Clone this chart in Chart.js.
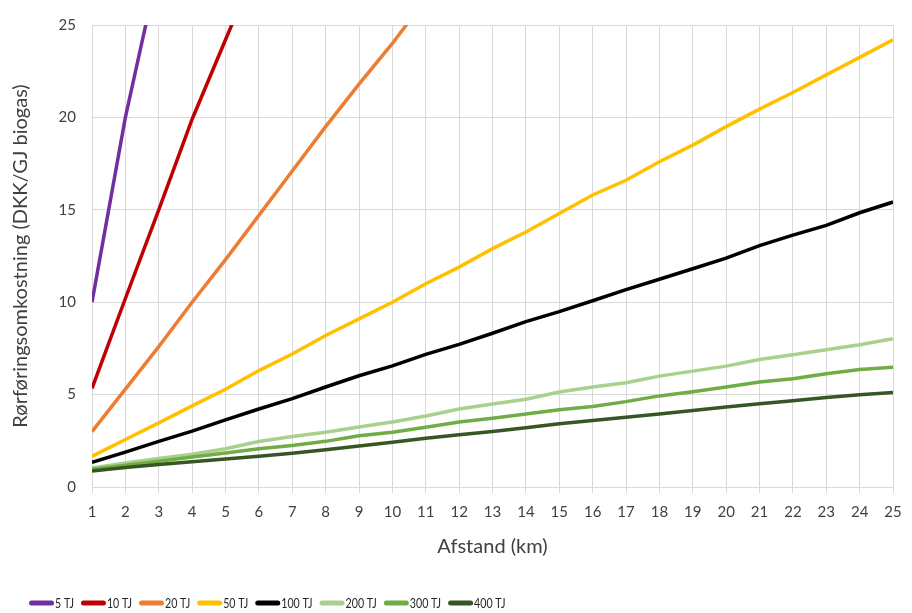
<!DOCTYPE html>
<html>
<head>
<meta charset="utf-8">
<script src="https://cdn.jsdelivr.net/npm/chart.js@4.4.1/dist/chart.umd.min.js"></script>
<style>
  html, body { margin: 0; padding: 0; background: #ffffff; }
  #wrap { width: 912px; height: 613px; }
</style>
</head>
<body>
<div id="wrap"><canvas id="c" width="912" height="613"></canvas></div>
<script>
// Afstand i km (kategorier på x-aksen)
const distanceKm = ['1','2','3','4','5','6','7','8','9','10','11','12','13','14','15','16','17','18','19','20','21','22','23','24','25'];

// Rørføringsomkostning (DKK/GJ biogas) pr. anlægsstørrelse
const cost5TJ   = [10.0, 20.0, 28.2];
const cost10TJ  = [5.34, 10.2, 15.0, 19.9, 24.2, 28.5];
const cost20TJ  = [3.0, 5.3, 7.6, 10.0, 12.3, 14.7, 17.1, 19.5, 21.8, 24.0, 26.4];
const cost50TJ  = [1.66, 2.57, 3.47, 4.39, 5.29, 6.3, 7.2, 8.2, 9.1, 10.0, 11.0, 11.9, 12.9, 13.8, 14.8, 15.8, 16.6, 17.6, 18.5, 19.5, 20.45, 21.35, 22.3, 23.25, 24.2];
const cost100TJ = [1.33, 1.89, 2.47, 3.02, 3.63, 4.22, 4.78, 5.41, 6.02, 6.55, 7.18, 7.72, 8.32, 8.95, 9.49, 10.08, 10.68, 11.24, 11.81, 12.38, 13.06, 13.63, 14.16, 14.84, 15.42];
const cost200TJ = [1.03, 1.3, 1.54, 1.77, 2.07, 2.46, 2.73, 2.96, 3.25, 3.52, 3.84, 4.22, 4.49, 4.75, 5.14, 5.41, 5.64, 6.0, 6.27, 6.54, 6.9, 7.16, 7.43, 7.7, 8.02];
const cost300TJ = [0.96, 1.18, 1.39, 1.62, 1.84, 2.07, 2.25, 2.47, 2.77, 2.96, 3.23, 3.52, 3.72, 3.95, 4.18, 4.36, 4.62, 4.93, 5.15, 5.41, 5.68, 5.86, 6.13, 6.36, 6.48];
const cost400TJ = [0.87, 1.05, 1.22, 1.37, 1.52, 1.67, 1.83, 2.02, 2.22, 2.42, 2.64, 2.83, 3.0, 3.2, 3.42, 3.6, 3.77, 3.95, 4.14, 4.33, 4.51, 4.67, 4.84, 4.99, 5.12];

const seriesNames = ['5 TJ', '10 TJ', '20 TJ', '50 TJ', '100 TJ', '200 TJ', '300 TJ', '400 TJ'];
const seriesValues = [cost5TJ, cost10TJ, cost20TJ, cost50TJ, cost100TJ, cost200TJ, cost300TJ, cost400TJ];
const seriesColors = ['#7030A0', '#C00000', '#ED7D31', '#FFC000', '#000000', '#A9D18E', '#70AD47', '#375623'];

const yTicks = [0, 5, 10, 15, 20, 25];

const FONT = 'Lato, "Liberation Sans", sans-serif';
const TEXT = '#404040';
const GRID = '#D9D9D9';

// Senere serier tegnes øverst
const datasets = seriesNames.map((name, i) => ({
  label: name,
  data: seriesValues[i],
  borderColor: seriesColors[i],
  backgroundColor: seriesColors[i],
  borderWidth: 3.5,
  pointRadius: 0,
  pointHoverRadius: 0,
  tension: 0,
  fill: false,
  clip: 0,
  spanGaps: false,
  order: seriesNames.length - i
}));

// Forklaring på én linje under x-aksen: kort linjestykke + smal tekst
const lineLegend = {
  id: 'lineLegend',
  afterDraw(chart) {
    const ctx = chart.ctx;
    const y = 603;
    const squeeze = 0.76;
    let x = 29;
    ctx.save();
    ctx.font = '14px ' + FONT;
    ctx.textBaseline = 'middle';
    ctx.textAlign = 'left';
    chart.data.datasets.forEach((ds) => {
      ctx.fillStyle = ds.borderColor;
      ctx.beginPath();
      ctx.roundRect(x, y - 2.5, 25, 5, 2.5);
      ctx.fill();
      x += 26;
      const w = ctx.measureText(ds.label).width * squeeze;
      ctx.save();
      ctx.translate(x, y);
      ctx.scale(squeeze, 1);
      ctx.fillStyle = '#262626';
      ctx.fillText(ds.label, 0, 0);
      ctx.restore();
      x += w + 7;
    });
    ctx.restore();
  }
};

new Chart(document.getElementById('c'), {
  type: 'line',
  data: { labels: distanceKm, datasets },
  plugins: [lineLegend],
  options: {
    responsive: false,
    animation: false,
    devicePixelRatio: 1,
    layout: { padding: { left: 8, right: 19, top: 20, bottom: 24 } },
    plugins: {
      tooltip: { enabled: false },
      legend: { display: false }
    },
    scales: {
      x: {
        type: 'category',
        offset: false,
        afterFit: (s) => { s.height = 102; },
        grid: { color: GRID, lineWidth: 1, tickLength: 6, tickColor: GRID, drawTicks: true },
        border: { color: GRID, width: 1 },
        ticks: {
          autoSkip: false, maxRotation: 0, minRotation: 0,
          padding: 10,
          color: TEXT,
          font: { family: FONT, size: 15 }
        },
        title: {
          display: true,
          text: 'Afstand (km)',
          color: TEXT,
          font: { family: FONT, size: 20 },
          padding: { top: 0, bottom: 30 }
        }
      },
      y: {
        min: 0,
        max: 25,
        afterFit: (s) => { s.width = 84; },
        afterBuildTicks: (s) => { s.ticks = yTicks.map(v => ({ value: v })); },
        grid: { color: GRID, lineWidth: 1, drawTicks: false },
        border: { color: GRID, width: 1 },
        ticks: {
          padding: 16,
          color: TEXT,
          font: { family: FONT, size: 15 }
        },
        title: {
          display: true,
          text: 'Rørføringsomkostning (DKK/GJ biogas)',
          color: TEXT,
          font: { family: FONT, size: 20 },
          padding: { top: 1, bottom: 0 }
        }
      }
    }
  }
});
</script>
</body>
</html>
